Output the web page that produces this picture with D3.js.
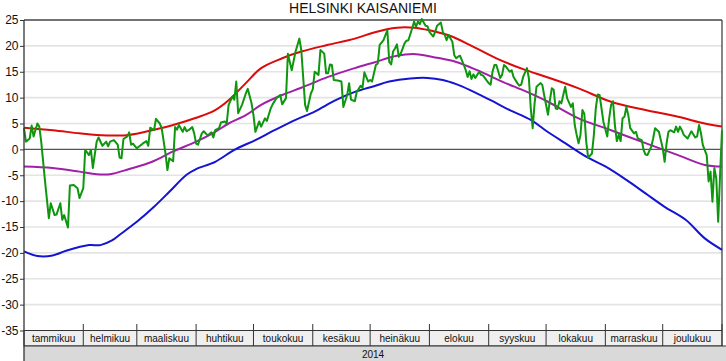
<!DOCTYPE html>
<html><head><meta charset="utf-8">
<script src="https://cdn.jsdelivr.net/npm/d3@7"></script>
<style>
html,body{margin:0;padding:0;background:#fff;}
svg{display:block;font-family:"Liberation Sans",Arial,sans-serif;}
</style></head>
<body>
<svg id="chart" width="726" height="361"></svg>
<script>
const title = "HELSINKI KAISANIEMI";
const yearLabel = "2014";
const monthNames = ["tammikuu","helmikuu","maaliskuu","huhtikuu","toukokuu","kesäkuu","heinäkuu","elokuu","syyskuu","lokakuu","marraskuu","joulukuu"];
const yTicks = [-35,-30,-25,-20,-15,-10,-5,0,5,10,15,20,25];

// daily observed mean 2014 (green): day-of-year index and temperature
const obsDays = [0,1,3,4,5,7,8,9,11,13,14,16,17,19,20,21,23,24,26,28,29,31,32,34,35,36,38,39,41,43,44,45,47,49,50,51,52,54,55,56,57,59,61,62,64,65,66,68,69,71,72,74,75,76,78,79,80,81,83,84,85,86,88,89,90,
91,93,94,96,98,99,100,102,103,105,106,107,109,110,111,112,114,116,117,119,120,121,123,124,126,127,129,130,132,134,135,137,138,140,142,144,145,147,148,150,151,152,154,155,157,158,159,160,161,162,164,166,167,169,170,171,173,174,176,177,178,180,
181,182,184,185,186,188,189,190,191,192,193,194,195,196,197,199,200,201,203,204,205,206,207,208,210,211,212,214,215,216,218,219,220,221,222,224,225,226,227,228,230,231,232,233,234,235,236,238,239,240,242,243,244,245,246,247,249,250,251,252,254,255,256,258,259,260,261,263,264,265,266,267,268,270,271,272,274,
275,276,277,278,279,280,281,282,283,284,286,287,288,289,290,291,292,293,294,295,297,298,299,300,301,302,303,305,306,307,308,309,310,311,312,313,314,315,316,317,319,320,321,323,324,325,326,328,329,330,332,333,334,335,336,337,338,340,341,342,343,344,345,347,348,349,351,352,353,354,355,357,358,359,360,361,362,363,364,365];
const obsTemps = [4.1,1.5,2.1,4.6,2.5,5.0,4.4,1.5,-6.2,-13.3,-10.4,-12.7,-12.6,-10.4,-13.6,-12.7,-15.1,-7.0,-6.9,-7.5,-9.4,-7.5,-0.1,-1.1,-0.1,-3.6,1.5,2.3,0.7,1.5,0.6,1.5,1.8,0.9,-1.6,-1.7,2.0,2.5,3.3,0.9,1.1,0.2,0.8,1.1,1.6,0.7,4.2,3.7,5.9,5.0,4.1,-0.8,-4.0,-1.7,-2.3,4.3,3.8,4.7,3.4,4.3,3.5,3.7,4.3,3.1,1.1,
0.9,3.1,3.5,2.7,3.3,2.3,3.7,4.1,5.2,5.4,5.0,8.6,10.2,9.6,13.1,7.0,8.6,10.8,11.7,8.9,6.6,3.4,5.4,4.4,6.0,5.5,7.9,8.7,9.9,10.5,8.7,9.9,18.5,15.3,18.9,21.4,19.2,8.6,7.4,10.8,11.6,15.0,14.4,19.2,18.5,14.7,14.7,16.4,16.3,13.4,13.3,13.1,8.2,10.5,12.8,9.6,9.3,11.1,12.3,11.9,14.9,13.1,
13.4,13.1,16.3,16.6,20.2,21.1,22.1,23.0,16.9,16.4,18.9,19.5,20.3,17.9,18.5,20.5,21.0,21.1,23.4,24.7,23.7,24.7,24.2,25.2,23.9,23.8,22.7,21.8,22.7,23.9,24.5,22.7,22.1,21.1,22.1,20.8,18.2,17.6,17.9,18.1,16.3,15.3,14.0,15.1,13.6,14.5,13.8,15.0,14.4,14.3,13.3,12.8,12.5,15.0,16.3,16.3,13.8,14.4,16.3,16.0,15.0,15.3,14.0,12.8,12.3,12.5,14.0,15.7,13.8,7.9,4.1,8.9,12.1,12.8,12.5,10.5,6.7,
9.5,11.8,11.5,7.9,7.8,9.3,8.9,10.5,12.1,9.9,8.2,8.9,4.7,2.8,1.2,2.8,7.6,6.9,1.5,-1.6,-0.8,2.8,7.9,10.6,10.5,7.9,5.3,2.5,6.0,8.6,9.3,4.7,1.6,2.8,1.6,6.0,6.3,8.2,6.6,4.1,3.1,3.4,2.1,1.8,-0.1,-1.0,-1.1,0.5,2.1,4.1,3.4,1.8,0.2,-2.4,1.1,3.4,3.7,3.3,4.4,3.4,4.4,3.7,2.8,2.1,2.8,3.5,2.3,2.5,4.7,3.1,0.8,-1.1,-6.2,-4.3,-10.1,-3.6,-5.6,-14.0,-4.9,3.7];

// highest daily mean (red)
const maxDays  = [0,15,29,38,55,67,78,90,100,107,116,124,135,145,159,173,183,195,204,212,223,233,247,261,274,290,307,325,342,356,365];
const maxTemps = [4.2,3.7,3.1,2.8,2.8,3.7,4.7,6.1,7.6,9.5,12.8,15.7,17.6,18.9,20.2,21.4,22.6,23.5,23.5,23.0,21.9,20.2,17.6,15.5,13.9,11.8,9.2,7.6,6.3,5.0,4.4];
// average daily mean (purple)
const avgDays  = [0,15,29,38,45,55,67,78,90,100,107,116,124,135,145,159,173,183,195,205,216,226,237,250,263,274,290,307,325,342,356,365];
const avgTemps = [-3.3,-3.6,-4.3,-4.8,-4.8,-3.8,-2.4,-0.4,1.5,3.4,5.0,6.6,8.6,10.5,11.9,14.0,15.7,16.8,18.1,18.4,17.7,16.9,15.3,13.1,11.1,9.2,6.0,3.7,1.2,-1.1,-3.0,-3.3];
// lowest daily mean (blue)
const minDays  = [0,7,15,22,34,40,46,50,59,68,76,85,90,100,110,121,131,142,152,163,173,183,191,202,211,219,226,233,244,254,265,273,283,294,304,315,325,335,346,356,365];
const minTemps = [-19.7,-20.6,-20.5,-19.6,-18.5,-18.5,-17.6,-16.5,-14.0,-11.1,-8.2,-4.9,-3.8,-2.4,-0.1,1.8,3.7,5.7,7.3,9.5,11.1,12.2,13.1,13.7,13.8,13.4,12.6,11.5,9.5,7.6,5.7,3.6,1.2,-1.4,-3.3,-5.9,-8.5,-11.1,-13.6,-17.2,-19.4];

const svg = d3.select("#chart");
const L = 24, R = 722, T = 20, B = 330.5;
const start = new Date(Date.UTC(2014,0,1));
const end = new Date(Date.UTC(2015,0,1));
const x = d3.scaleUtc().domain([start,end]).range([L,R]);
const y = d3.scaleLinear().domain([-35,25]).range([B,T]);
const dayDate = d => d3.utcDay.offset(start, d);

// gridlines
svg.append("g").selectAll("line").data(yTicks.filter(v => v !== 25 && v !== -35 && v !== 0)).join("line")
  .attr("x1", L).attr("x2", R).attr("y1", d => y(d)).attr("y2", d => y(d))
  .attr("stroke", "#e4e4e4").attr("stroke-width", 1.6);

// zero line
svg.append("line").attr("x1", L).attr("x2", R).attr("y1", y(0)).attr("y2", y(0))
  .attr("stroke", "#555").attr("stroke-width", 1.3);

// borders
svg.append("line").attr("x1", L).attr("x2", R).attr("y1", y(25)).attr("y2", y(25)).attr("stroke", "#444").attr("stroke-width", 1.3);
svg.append("line").attr("x1", R).attr("x2", R).attr("y1", T).attr("y2", B).attr("stroke", "#444").attr("stroke-width", 1.3);

// y axis
const yAxis = svg.append("g").attr("transform", `translate(${L},0)`)
  .call(d3.axisLeft(y).tickValues(yTicks).tickSize(4).tickPadding(1.5).tickFormat(d => String(d)));
yAxis.select(".domain").remove();
yAxis.selectAll(".tick line").attr("stroke", "#333");
yAxis.selectAll(".tick text").attr("font-size", 12).attr("fill", "#111")
  .attr("font-family", "Liberation Sans, Arial, sans-serif");

// lines
function drawLine(days, temps, color, curve) {
  const pts = days.map((d, i) => [dayDate(d), temps[i]]);
  svg.append("path").datum(pts)
    .attr("fill", "none").attr("stroke", color).attr("stroke-width", 2)
    .attr("stroke-linejoin", "round")
    .attr("d", d3.line().x(p => x(p[0])).y(p => y(p[1])).curve(curve));
}
const smooth = d3.curveCatmullRom.alpha(0.5);
drawLine(minDays, minTemps, "#1414d2", smooth);
drawLine(avgDays, avgTemps, "#a020a8", smooth);
drawLine(maxDays, maxTemps, "#dc0a0a", smooth);
drawLine(obsDays, obsTemps, "#0e960e", d3.curveLinear);

// month band
const months = d3.utcMonth.range(start, end);
svg.append("rect").attr("x", L).attr("y", B).attr("width", R - L).attr("height", 346 - B)
  .attr("fill", "#efefef").attr("stroke", "#333").attr("stroke-width", 1);
svg.append("g").selectAll("line").data(months.slice(1).concat([end])).join("line")
  .attr("x1", d => x(d)).attr("x2", d => x(d)).attr("y1", 324).attr("y2", 346)
  .attr("stroke", "#333").attr("stroke-width", 1);
svg.append("g").selectAll("text").data(months).join("text")
  .attr("x", (d) => (x(d) + x(d3.utcMonth.offset(d, 1))) / 2)
  .attr("y", 342.3).attr("text-anchor", "middle").attr("font-size", 10).attr("fill", "#111")
  .text((d, i) => monthNames[i]);

// year band
svg.append("rect").attr("x", L).attr("y", 346).attr("width", 726 - L).attr("height", 15)
  .attr("fill", "#d9d9d9");
svg.append("line").attr("x1", L).attr("x2", 726).attr("y1", 346).attr("y2", 346).attr("stroke", "#333").attr("stroke-width", 1);
svg.append("text").attr("x", (L + R) / 2).attr("y", 357.5).attr("text-anchor", "middle")
  .attr("font-size", 10).attr("fill", "#111").text(yearLabel);

// left axis line
svg.append("line").attr("x1", L).attr("x2", L).attr("y1", T).attr("y2", 361).attr("stroke", "#333").attr("stroke-width", 1.3);

// title
svg.append("text").attr("x", 363).attr("y", 13).attr("text-anchor", "middle")
  .attr("font-size", 14).attr("fill", "#111").text(title);
</script>
</body></html>
